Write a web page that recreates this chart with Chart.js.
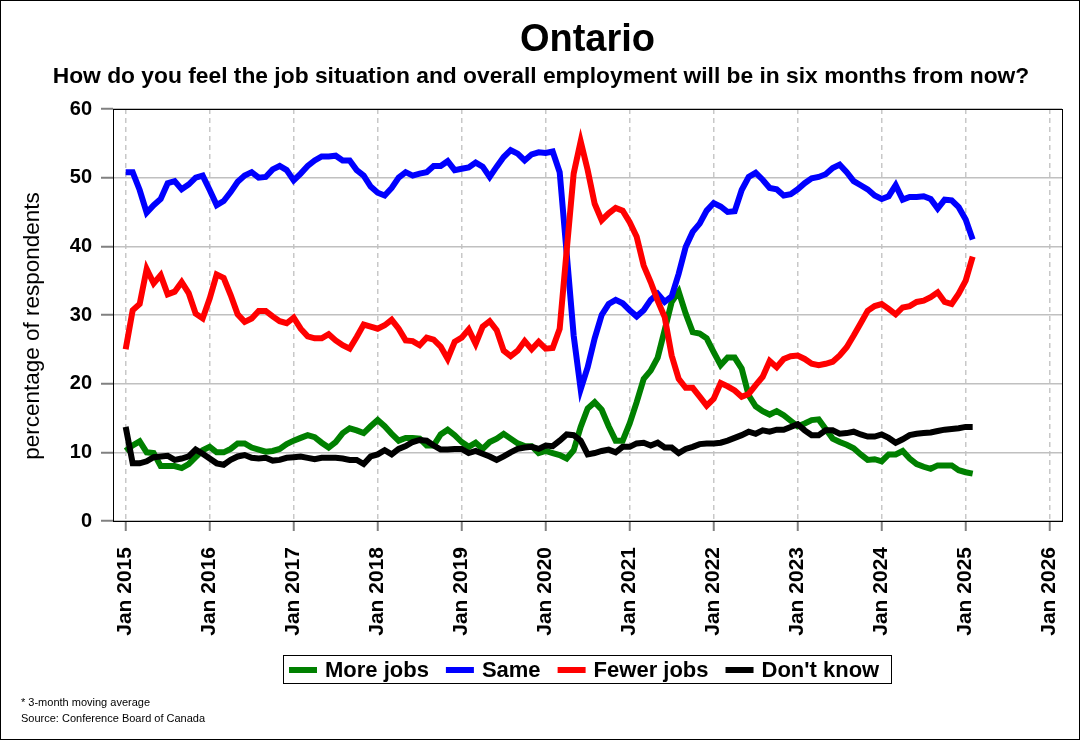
<!DOCTYPE html>
<html>
<head>
<meta charset="utf-8">
<script src="https://cdn.jsdelivr.net/npm/chart.js@4/dist/chart.umd.min.js"></script>
<style>
  html, body { margin: 0; padding: 0; background: #ffffff; }
  canvas { display: block; }
</style>
</head>
<body>
<canvas id="c" width="1080" height="740"></canvas>
<script>
// ---------------- text ----------------
const chartTitle = "Ontario";
const chartSubtitle = "How do you feel the job situation and overall employment will be in six months from now?";
const yAxisTitle = "percentage of respondents";
const footnotes = ["* 3-month moving average", "Source: Conference Board of Canada"];

// ---------------- categories / ticks ----------------
// monthly observations, Jan 2015 (month 0) to Feb 2025 (month 121)
const yearTickMonths = [0, 12, 24, 36, 48, 60, 72, 84, 96, 108, 120, 132];
const yearTickLabels = ["Jan 2015", "Jan 2016", "Jan 2017", "Jan 2018", "Jan 2019", "Jan 2020",
                        "Jan 2021", "Jan 2022", "Jan 2023", "Jan 2024", "Jan 2025", "Jan 2026"];
const yTickValues = [0, 10, 20, 30, 40, 50, 60];

// ---------------- series ----------------
const seriesNames = ["More jobs", "Same", "Fewer jobs", "Don't know"];
const seriesColors = ["#008000", "#0000ff", "#ff0000", "#000000"];

const moreJobs = [
  10.2, 11.0, 11.6, 10.0, 9.9, 8.0, 8.0, 8.0, 7.7, 8.3, 9.3, 10.3,
  10.8, 10.0, 10.0, 10.5, 11.3, 11.3, 10.7, 10.4, 10.1, 10.2, 10.5, 11.2,
  11.7, 12.1, 12.5, 12.2, 11.4, 10.7, 11.5, 12.8, 13.5, 13.2, 12.8, 13.8,
  14.7, 13.8, 12.7, 11.7, 12.1, 12.1, 12.0, 11.0, 11.0, 12.6, 13.3, 12.5,
  11.5, 10.8, 11.4, 10.5, 11.5, 12.0, 12.7, 12.0, 11.3, 10.9, 10.9, 9.9,
  10.2, 9.9, 9.6, 9.1, 10.3, 13.7, 16.4, 17.3, 16.2, 13.8, 11.7, 11.7,
  14.2, 17.3, 20.7, 21.9, 23.8, 27.8, 31.9, 33.4, 30.2, 27.5, 27.3, 26.6,
  24.6, 22.7, 23.8, 23.8, 22.2, 18.3, 16.7, 16.0, 15.5, 16.0, 15.4, 14.6,
  13.8, 14.2, 14.7, 14.8, 13.4, 12.0, 11.5, 11.1, 10.6, 9.7, 8.9, 9.0,
  8.7, 9.7, 9.7, 10.2, 9.1, 8.3, 7.9, 7.6, 8.1, 8.1, 8.1, 7.4,
  7.1, 6.9
];
const same = [
  50.8, 50.8, 48.2, 44.9, 46.0, 46.9, 49.2, 49.5, 48.3, 49.0, 50.0, 50.3,
  48.2, 46.0, 46.6, 47.9, 49.4, 50.3, 50.8, 50.0, 50.1, 51.2, 51.7, 51.1,
  49.6, 50.6, 51.7, 52.5, 53.1, 53.1, 53.2, 52.5, 52.5, 51.1, 50.3, 48.7,
  47.8, 47.4, 48.5, 50.0, 50.8, 50.3, 50.6, 50.8, 51.7, 51.7, 52.4, 51.1,
  51.3, 51.5, 52.2, 51.6, 50.1, 51.6, 53.0, 54.0, 53.5, 52.5, 53.4, 53.7,
  53.6, 53.8, 50.8, 39.0, 27.0, 19.2, 22.4, 26.6, 30.0, 31.6, 32.2, 31.7,
  30.7, 29.8, 30.7, 32.2, 33.1, 31.9, 32.7, 36.0, 39.9, 42.1, 43.3, 45.2,
  46.3, 45.8, 45.0, 45.1, 48.2, 50.1, 50.7, 49.7, 48.5, 48.3, 47.4, 47.6,
  48.3, 49.2, 49.9, 50.1, 50.5, 51.4, 51.9, 50.8, 49.5, 48.9, 48.3, 47.4,
  46.9, 47.3, 48.9, 46.8, 47.2, 47.2, 47.3, 46.9, 45.5, 46.8, 46.7, 45.7,
  43.9, 41.0
];
const fewerJobs = [
  25.0, 30.7, 31.6, 36.7, 34.6, 35.8, 33.0, 33.4, 34.8, 33.2, 30.2, 29.5,
  32.4, 35.9, 35.4, 32.9, 30.1, 29.0, 29.5, 30.6, 30.6, 29.8, 29.1, 28.8,
  29.6, 28.0, 26.9, 26.6, 26.6, 27.2, 26.3, 25.6, 25.1, 26.8, 28.6, 28.3,
  28.0, 28.5, 29.3, 28.0, 26.3, 26.2, 25.6, 26.7, 26.4, 25.4, 23.6, 26.1,
  26.7, 27.9, 25.8, 28.3, 29.1, 27.8, 24.8, 24.0, 24.8, 26.2, 25.0, 26.1,
  25.1, 25.2, 28.0, 39.4, 50.6, 55.3, 51.1, 46.2, 43.8, 44.8, 45.6, 45.2,
  43.5, 41.4, 37.2, 34.8, 32.1, 29.7, 24.1, 20.7, 19.4, 19.4, 18.1, 16.8,
  17.8, 20.1, 19.6, 19.0, 18.1, 18.5, 19.8, 21.0, 23.3, 22.4, 23.6, 24.0,
  24.1, 23.6, 22.9, 22.7, 22.9, 23.2, 24.1, 25.3, 27.0, 28.8, 30.6, 31.3,
  31.6, 30.9, 30.1, 31.1, 31.3, 31.9, 32.1, 32.6, 33.3, 31.9, 31.6, 33.1,
  35.0, 38.5
];
const dontKnow = [
  13.7, 8.4, 8.4, 8.7, 9.3, 9.4, 9.5, 8.9, 9.1, 9.4, 10.4, 9.8,
  9.1, 8.4, 8.2, 8.9, 9.4, 9.6, 9.2, 9.1, 9.2, 8.8, 8.9, 9.2,
  9.3, 9.4, 9.2, 9.0, 9.2, 9.2, 9.2, 9.1, 8.9, 8.9, 8.3, 9.4,
  9.7, 10.3, 9.7, 10.5, 10.9, 11.5, 11.8, 11.7, 11.0, 10.4, 10.4, 10.5,
  10.5, 9.9, 10.2, 9.8, 9.4, 8.9, 9.4, 10.0, 10.5, 10.7, 10.8, 10.5,
  11.0, 10.9, 11.7, 12.6, 12.5, 11.7, 9.7, 9.9, 10.2, 10.4, 10.0, 10.8,
  10.8, 11.3, 11.4, 11.0, 11.4, 10.7, 10.7, 9.9, 10.5, 10.8, 11.2, 11.3,
  11.3, 11.4, 11.7, 12.1, 12.5, 13.0, 12.7, 13.2, 13.0, 13.3, 13.3, 13.7,
  14.1, 13.2, 12.5, 12.5, 13.2, 13.2, 12.7, 12.8, 13.0, 12.6, 12.3, 12.3,
  12.6, 12.1, 11.4, 11.9, 12.5, 12.7, 12.8, 12.9, 13.1, 13.3, 13.4, 13.5,
  13.7, 13.7
];

// ---------------- build chart ----------------
const FF = "'Liberation Sans', Arial, Helvetica, sans-serif";
const seriesValues = [moreJobs, same, fewerJobs, dontKnow];

const datasets = seriesNames.map((name, k) => ({
  label: name,
  data: seriesValues[k].map((v, i) => ({ x: i, y: v })),
  borderColor: seriesColors[k],
  backgroundColor: seriesColors[k],
  borderWidth: 6,
  pointRadius: 0,
  pointHoverRadius: 0,
  tension: 0,
  fill: false,
  order: seriesNames.length - k
}));

const decorPlugin = {
  id: 'decor',
  beforeDraw(chart) {
    const ctx = chart.ctx;
    ctx.save();
    ctx.fillStyle = '#ffffff';
    ctx.fillRect(0, 0, chart.width, chart.height);
    ctx.restore();
  },
  afterDraw(chart) {
    const ctx = chart.ctx;
    const a = chart.chartArea;
    ctx.save();

    // plot frame
    ctx.strokeStyle = '#000000';
    ctx.lineWidth = 1;
    ctx.setLineDash([]);
    ctx.strokeRect(a.left + 0.5, a.top + 0.5, a.right - a.left, a.bottom - a.top);

    // outer frame
    ctx.strokeRect(0.5, 0.5, chart.width - 1, chart.height - 1);

    // titles
    ctx.fillStyle = '#000000';
    ctx.textAlign = 'center';
    ctx.textBaseline = 'alphabetic';
    ctx.font = 'bold 38px ' + FF;
    ctx.fillText(chartTitle, (a.left + a.right) / 2, 51);
    ctx.font = 'bold 22.8px ' + FF;
    ctx.fillText(chartSubtitle, chart.width / 2 + 1, 83);

    // y axis title
    ctx.save();
    ctx.translate(39, 326);
    ctx.rotate(-Math.PI / 2);
    ctx.font = '22.5px ' + FF;
    ctx.textAlign = 'center';
    ctx.textBaseline = 'alphabetic';
    ctx.fillText(yAxisTitle, 0, 0);
    ctx.restore();

    // legend
    ctx.font = 'bold 22px ' + FF;
    const ds = chart.data.datasets;
    const sw = 28, gapSwText = 8, gapItem = 17, padL = 6, padR = 12;
    const widths = ds.map(d => ctx.measureText(d.label).width);
    let total = padL + padR;
    widths.forEach((w, i) => { total += sw + gapSwText + w + (i < widths.length - 1 ? gapItem : 0); });
    const x0 = Math.round((a.left + a.right) / 2 - total / 2);
    ctx.strokeStyle = '#000000';
    ctx.lineWidth = 1;
    ctx.strokeRect(x0 + 0.5, 655.5, Math.round(total), 28);
    let x = x0 + padL;
    ctx.textAlign = 'left';
    ctx.textBaseline = 'alphabetic';
    ds.forEach((d, i) => {
      ctx.fillStyle = d.borderColor;
      ctx.fillRect(x, 667, sw, 6);
      x += sw + gapSwText;
      ctx.fillStyle = '#000000';
      ctx.fillText(d.label, x, 677);
      x += widths[i] + gapItem;
    });

    // footnotes
    ctx.font = '11px ' + FF;
    ctx.fillStyle = '#000000';
    ctx.fillText(footnotes[0], 21, 706);
    ctx.fillText(footnotes[1], 21, 722);

    ctx.restore();
  }
};

new Chart(document.getElementById('c'), {
  type: 'line',
  data: { datasets },
  plugins: [decorPlugin],
  options: {
    responsive: false,
    devicePixelRatio: 1,
    animation: false,
    events: [],
    layout: { padding: { top: 109, right: 18, bottom: 0, left: 0 } },
    plugins: {
      legend: { display: false },
      title: { display: false },
      tooltip: { enabled: false }
    },
    scales: {
      x: {
        type: 'linear',
        min: -1.81,
        max: 133.76,
        afterBuildTicks: (s) => { s.ticks = yearTickMonths.map(v => ({ value: v })); },
        afterFit: (s) => { s.height = 219; s.paddingLeft = 0; s.paddingRight = 0; },
        ticks: {
          autoSkip: false,
          minRotation: 90,
          maxRotation: 90,
          padding: 16,
          color: '#000000',
          font: { family: FF, size: 21, weight: 'bold' },
          callback: (v, i) => yearTickLabels[i]
        },
        grid: {
          color: '#c8c8c8',
          lineWidth: 1.5,
          tickLength: 10,
          tickColor: '#808080',
          tickWidth: 2,
          tickBorderDash: []
        },
        border: { display: false, dash: [5, 4] }
      },
      y: {
        min: 0,
        max: 60,
        afterBuildTicks: (s) => { s.ticks = yTickValues.map(v => ({ value: v })); },
        afterFit: (s) => { s.width = 113; s.paddingTop = 0; s.paddingBottom = 0; },
        ticks: {
          padding: 9,
          color: '#000000',
          font: { family: FF, size: 20, weight: 'bold' }
        },
        grid: {
          color: '#c0c0c0',
          lineWidth: 1.5,
          tickLength: 12,
          tickColor: '#808080',
          tickWidth: 2
        },
        border: { display: false }
      }
    }
  }
});
</script>
</body>
</html>
